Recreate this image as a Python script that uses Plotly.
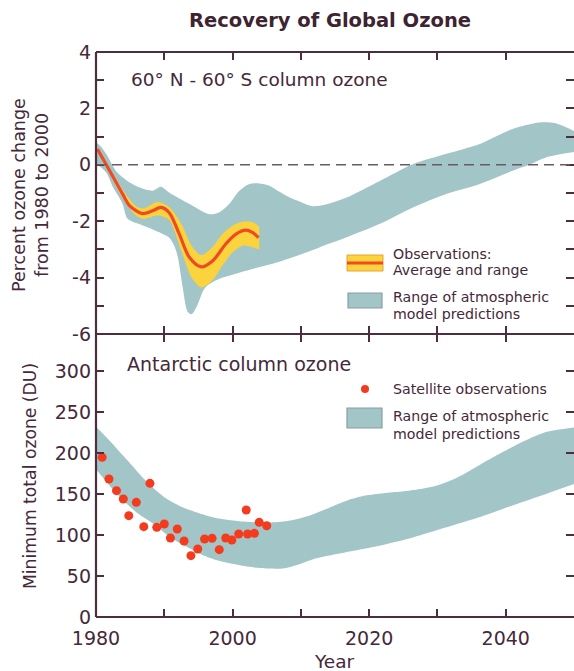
import plotly.graph_objects as go

# ---------------- data ----------------
# Top panel: 60N-60S column ozone, percent change
model_top_upper_year = [1980, 1980.7, 1981.5, 1982.9, 1984.4, 1986.3, 1988.3, 1989.5, 1990.7, 1993.7,
                        1996.6, 1998.0, 1999.5, 2001.0, 2002.4, 2003.9, 2005.4, 2006.8, 2008.3, 2009.8,
                        2011.7, 2013.5, 2016.6, 2021.5, 2026.4, 2031.2, 2036.1, 2041.0, 2044.9, 2047.3, 2050]
model_top_upper_val = [0.8, 0.65, 0.38, -0.21, -0.54, -0.8, -0.92, -0.78, -0.98, -1.39,
                       -1.75, -1.69, -1.39, -0.92, -0.69, -0.66, -0.74, -0.95, -1.15, -1.3,
                       -1.47, -1.42, -1.17, -0.58, 0.02, 0.38, 0.73, 1.27, 1.5, 1.47, 1.2]
model_top_lower_year = [1980, 1981.5, 1982.5, 1983.9, 1984.6, 1986.3, 1988.4, 1990.7, 1991.5, 1992.0,
                        1992.7, 1993.4, 1994.0, 1994.8, 1996.0, 1998.0, 2000.0, 2003.4, 2006.0, 2008.7,
                        2012.7, 2016.6, 2021.5, 2026.4, 2031.2, 2036.1, 2041.0, 2043.4, 2045.9, 2050]
model_top_lower_val = [0.05, -0.27, -0.8, -1.39, -1.9, -2.1, -2.3, -2.58, -2.9, -3.29,
                       -4.35, -5.2, -5.3, -5.0, -4.35, -4.05, -3.9, -3.66, -3.5, -3.29,
                       -2.93, -2.58, -2.1, -1.51, -1.04, -0.69, -0.21, 0.0, 0.26, 0.45]

obs_year = [1980.2, 1982.0, 1983.9, 1984.9, 1985.9, 1986.8, 1988.3, 1989.5, 1990.7, 1992.2,
            1993.7, 1995.4, 1997.1, 1999.0, 2000.5, 2001.95, 2002.9, 2003.8]
obs_avg = [0.56, -0.21, -1.04, -1.45, -1.63, -1.73, -1.63, -1.51, -1.69, -2.46,
           -3.29, -3.62, -3.4, -2.81, -2.46, -2.32, -2.4, -2.58]
obs_range_year = [1980.2, 1982.0, 1984.0, 1985.9, 1987.0, 1989.0, 1990.7, 1992.5, 1994.0, 1995.4,
                  1997.0, 1998.5, 2000.0, 2001.5, 2003.0, 2003.9]
obs_range_hi = [0.62, -0.12, -0.92, -1.48, -1.55, -1.32, -1.5, -2.1, -2.87, -3.2,
                -2.93, -2.46, -2.16, -2.02, -2.04, -2.2]
obs_range_lo = [0.48, -0.32, -1.22, -1.8, -1.92, -1.8, -1.95, -3.05, -4.0, -4.35,
                -4.11, -3.58, -3.11, -2.87, -2.93, -3.0]

# Bottom panel: Antarctic minimum total ozone (DU)
model_bot_upper_year = [1980, 1982, 1984.6, 1987.3, 1990, 1992.6, 1995.3, 1998, 2000.7, 2003.4,
                        2006.1, 2008.7, 2011.4, 2014.1, 2016.8, 2019.4, 2022.1, 2024.8, 2027.5, 2030.2,
                        2032.9, 2035.5, 2038.2, 2040.9, 2043.6, 2046.2, 2050]
model_bot_upper_val = [232, 215, 191, 166, 146, 134, 126, 120, 117, 115.5,
                       115.5, 118, 124, 133, 142, 148, 151, 153, 156, 161,
                       170, 182, 195, 207, 218, 226, 231]
model_bot_lower_year = [1980, 1982, 1984, 1986, 1988.5, 1990.9, 1993.4, 1995.5, 1998, 2000.5,
                        2003, 2005.5, 2007.6, 2010, 2012, 2016.6, 2021.5, 2026.4, 2031.2, 2036.1,
                        2041, 2045.9, 2050]
model_bot_lower_val = [180, 160, 142, 127, 113, 97, 85, 76, 68.5, 64,
                       60.5, 59, 59.5, 65, 71, 79, 87, 97, 109, 121.5,
                       136, 150, 162]

sat_year = [1979.8, 1980.9, 1981.9, 1983.0, 1984.0, 1984.8, 1985.9, 1987.0, 1987.9, 1988.9,
            1990.0, 1990.9, 1991.9, 1992.9, 1993.9, 1994.9, 1995.9, 1997.0, 1998.05, 1999.0,
            1999.9, 2000.9, 2002.0, 2002.2, 2003.2, 2003.9, 2005.0]
sat_du = [190.6, 194.6, 168.3, 154.0, 143.9, 123.5, 139.8, 110.1, 162.9, 109.3,
          113.4, 96.3, 107.3, 92.7, 74.8, 82.9, 95.1, 95.9, 82.1, 96.3,
          93.9, 101.2, 130.5, 101.2, 102.0, 115.4, 111.3]

x_tickvals = [1980, 1990, 2000, 2010, 2020, 2030, 2040, 2050]
x_ticktext = ["1980", "", "2000", "", "2020", "", "2040", ""]
top_tickvals = [-6, -5, -4, -3, -2, -1, 0, 1, 2, 3, 4]
top_ticktext = ["-6", "", "-4", "", "-2", "", "0", "", "2", "", "4"]
bot_tickvals = [0, 50, 100, 150, 200, 250, 300]
bot_ticktext = ["0", "50", "100", "150", "200", "250", "300"]

# ---------------- style ----------------
W, H = 574, 671
ML, MR, MT, MB = 96, 0, 52, 54
PW, PH = W - ML - MR, H - MT - MB
SPLIT = (617 - 334) / PH  # paper y of the shared border

TEAL = "#a2c5c7"
YELLOW = "#fbd33c"
RED = "#ef4a24"
DOT = "#f43b1e"
INK = "#45293a"
AX = "#4d2e3f"
FONT = "DejaVu Sans, Arial, sans-serif"


def px(xp):
    return (xp - ML) / PW


def py(yp):
    return (MT + PH - yp) / PH


fig = go.Figure()

# top panel model band
fig.add_trace(go.Scatter(x=model_top_lower_year, y=model_top_lower_val, mode="lines",
                         line=dict(width=0, color=TEAL, shape="spline", smoothing=0.8),
                         hoverinfo="skip", showlegend=False, xaxis="x", yaxis="y"))
fig.add_trace(go.Scatter(x=model_top_upper_year, y=model_top_upper_val, mode="lines",
                         line=dict(width=0, color=TEAL, shape="spline", smoothing=0.8),
                         fill="tonexty", fillcolor=TEAL,
                         hoverinfo="skip", showlegend=False, xaxis="x", yaxis="y"))
# observations range
fig.add_trace(go.Scatter(x=obs_range_year, y=obs_range_lo, mode="lines",
                         line=dict(width=0, color=YELLOW, shape="spline", smoothing=0.8),
                         hoverinfo="skip", showlegend=False, xaxis="x", yaxis="y"))
fig.add_trace(go.Scatter(x=obs_range_year, y=obs_range_hi, mode="lines",
                         line=dict(width=0, color=YELLOW, shape="spline", smoothing=0.8),
                         fill="tonexty", fillcolor=YELLOW,
                         hoverinfo="skip", showlegend=False, xaxis="x", yaxis="y"))
fig.add_trace(go.Scatter(x=obs_year, y=obs_avg, mode="lines",
                         line=dict(width=3.2, color=RED, shape="spline", smoothing=0.9),
                         showlegend=False, xaxis="x", yaxis="y"))

# bottom panel model band
fig.add_trace(go.Scatter(x=model_bot_lower_year, y=model_bot_lower_val, mode="lines",
                         line=dict(width=0, color=TEAL, shape="spline", smoothing=0.8),
                         hoverinfo="skip", showlegend=False, xaxis="x2", yaxis="y2"))
fig.add_trace(go.Scatter(x=model_bot_upper_year, y=model_bot_upper_val, mode="lines",
                         line=dict(width=0, color=TEAL, shape="spline", smoothing=0.8),
                         fill="tonexty", fillcolor=TEAL,
                         hoverinfo="skip", showlegend=False, xaxis="x2", yaxis="y2"))
fig.add_trace(go.Scatter(x=sat_year, y=sat_du, mode="markers",
                         marker=dict(size=9, color=DOT), cliponaxis=False,
                         showlegend=False, xaxis="x2", yaxis="y2"))

tickfont = dict(family=FONT, size=19, color=INK)
common_x = dict(range=[1980, 2050], tickvals=x_tickvals, ticks="inside", ticklen=8,
                tickwidth=1.5, tickcolor=AX, showline=False, showgrid=False,
                zeroline=False, mirror="ticks", tickfont=tickfont)
common_y = dict(ticks="inside", ticklen=8, tickwidth=1.5, tickcolor=AX, mirror="ticks",
                showline=False, showgrid=False, zeroline=False, tickfont=tickfont,
                ticklabelstandoff=4)

fig.update_layout(
    width=W, height=H,
    margin=dict(l=ML, r=MR, t=MT, b=MB),
    paper_bgcolor="white", plot_bgcolor="white",
    showlegend=False,
    xaxis=dict(**common_x, domain=[0, 1], anchor="y", showticklabels=False),
    xaxis2=dict(**common_x, domain=[0, 1], anchor="y2", ticktext=x_ticktext, ticklabelstandoff=8),
    yaxis=dict(**common_y, domain=[SPLIT, 1], range=[-6, 4], tickvals=top_tickvals,
               ticktext=top_ticktext, anchor="x"),
    yaxis2=dict(**common_y, domain=[0, SPLIT], range=[0, 345], tickvals=bot_tickvals,
                ticktext=bot_ticktext, anchor="x2"),
)

shapes = []
# zero line (dashed) in top panel
shapes.append(dict(type="line", xref="x", yref="y", x0=1980, x1=2050, y0=0, y1=0,
                   line=dict(color="#6b5a63", width=1.5, dash="10px,6px")))
# frame lines
for y0 in [0, SPLIT, 1]:
    shapes.append(dict(type="line", xref="paper", yref="paper", x0=0, x1=1, y0=y0, y1=y0,
                       line=dict(color=AX, width=2.2)))
shapes.append(dict(type="line", xref="paper", yref="paper", x0=0, x1=0, y0=0, y1=1,
                   line=dict(color=AX, width=2.2)))

# legend swatches
shapes.append(dict(type="rect", xref="paper", yref="paper", x0=px(347), x1=px(383), y0=py(271), y1=py(255),
                   fillcolor=YELLOW, line=dict(color="#e8a23a", width=1)))
shapes.append(dict(type="line", xref="paper", yref="paper", x0=px(347), x1=px(383), y0=py(263), y1=py(263),
                   line=dict(color=RED, width=3)))
shapes.append(dict(type="rect", xref="paper", yref="paper", x0=px(348), x1=px(382), y0=py(308), y1=py(293),
                   fillcolor=TEAL, line=dict(color="#8a9ea0", width=1.2)))
shapes.append(dict(type="rect", xref="paper", yref="paper", x0=px(347), x1=px(382), y0=py(428), y1=py(408),
                   fillcolor=TEAL, line=dict(color="#8a9ea0", width=1.2)))
shapes.append(dict(type="circle", xref="paper", yref="paper", x0=px(361), x1=px(369), y0=py(393), y1=py(385),
                   fillcolor=DOT, line=dict(width=0)))
fig.update_layout(shapes=shapes)

ann = []


def text(s, xp, yp, size, anchor="left", angle=0, bold=False, color=INK):
    ann.append(dict(text=("<b>%s</b>" % s) if bold else s, xref="paper", yref="paper",
                    x=px(xp), y=py(yp), xanchor=anchor, yanchor="middle", showarrow=False,
                    textangle=angle, font=dict(family=FONT, size=size, color=color)))


text("Recovery of Global Ozone", 330, 21, 19.5, anchor="center", bold=True, color="#3d2430")
text("60° N - 60° S column ozone", 129, 79, 18.5)
text("Antarctic column ozone", 125, 364, 19)
text("Observations:", 391, 254, 14.2)
text("Average and range", 391, 270, 14.2)
text("Range of atmospheric", 391, 297, 14.2)
text("model predictions", 391, 314, 14.2)
text("Satellite observations", 391, 389, 14.2)
text("Range of atmospheric", 391, 416, 14.2)
text("model predictions", 391, 434, 14.2)
text("Percent ozone change", 19, 195, 17.5, anchor="center", angle=-90)
text("from 1980 to 2000", 42, 195, 17.5, anchor="center", angle=-90)
text("Minimum total ozone (DU)", 30, 476, 17.2, anchor="center", angle=-90)
text("Year", 334, 661, 18.5, anchor="center")
fig.update_layout(annotations=ann)

fig.write_html("out.html")
